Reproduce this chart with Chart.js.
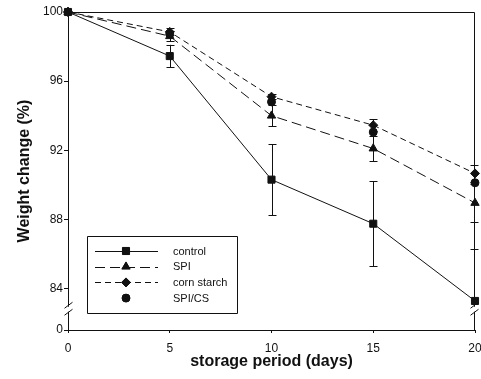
<!DOCTYPE html>
<html><head><meta charset="utf-8">
<script src="https://cdn.jsdelivr.net/npm/chart.js@4/dist/chart.umd.min.js"></script>
<style>html,body{margin:0;padding:0;background:#fff}#wrap{width:481px;height:379px}</style>
</head><body><div id="wrap"><canvas id="c" width="481" height="379"></canvas></div>
<script>
// ---- data ----
const days = [0, 5, 10, 15, 20];
const xTickValues = [0, 5, 10, 15, 20];
const yTickValues = [0, 84, 88, 92, 96, 100];
const seriesNames = ['control', 'SPI', 'corn starch', 'SPI/CS'];
const control = [100, 97.45, 90.3, 87.75, 83.28];
const controlErr = [0, 0.65, 2.06, 2.45, 3.0];
const spi = [100, 98.6, 94.0, 92.1, 88.95];
const spiErr = [0, 0.3, 0.6, 0.75, 1.1];
const cornStarch = [100, 98.85, 95.1, 93.45, 90.66];
const cornStarchErr = [0, 0.2, 0.15, 0.33, 0.48];
const spiCs = [100, 98.72, 94.8, 93.05, 90.12];
const spiCsErr = [0, 0, 0, 0, 0];

// broken axis: the "0" tick is drawn just below 84
const Y_ZERO_AT = 81.6;
const Y_BREAK_AT = 82.8;

const FONT = 'Liberation Sans, Arial, Helvetica, sans-serif';
const INK = '#111';

function mk(name, vals, errs, style, radius, dash, showLine, order) {
  return {
    label: name,
    data: days.map((d, i) => ({x: d, y: vals[i]})),
    errors: errs,
    borderColor: INK, backgroundColor: INK,
    borderWidth: 1, borderDash: dash,
    pointStyle: style, pointRadius: radius, pointHoverRadius: radius,
    pointBorderColor: INK, pointBackgroundColor: INK, pointBorderWidth: 1,
    showLine: showLine, fill: false, tension: 0, clip: false, order: order
  };
}

const datasets = [
  mk(seriesNames[3], spiCs, spiCsErr, 'circle', 4, [], false, 0),
  mk(seriesNames[0], control, controlErr, 'rect', 5, [], true, 3),
  mk(seriesNames[1], spi, spiErr, 'triangle', 4.8, [10, 5], true, 2),
  mk(seriesNames[2], cornStarch, cornStarchErr, 'rectRot', 4.5, [6, 4], true, 1)
];
const legendOrder = [1, 2, 3, 0];

const errorBars = {
  id: 'errorBars',
  beforeDatasetsDraw(chart) {
    const ctx = chart.ctx, xs = chart.scales.x, ys = chart.scales.y, a = chart.chartArea;
    ctx.save();
    ctx.beginPath(); ctx.rect(a.left - 10, a.top - 10, a.right - a.left + 20, a.bottom - a.top + 10); ctx.clip();
    ctx.strokeStyle = INK; ctx.lineWidth = 1; ctx.setLineDash([]);
    chart.data.datasets.forEach(ds => {
      ds.data.forEach((p, i) => {
        const e = ds.errors[i];
        if (!e) return;
        let x = Math.round(xs.getPixelForValue(p.x)) + 0.5;
        if (x > a.right - 1) x = Math.round(a.right) - 0.5;
        const y1 = ys.getPixelForValue(p.y + e), y2 = ys.getPixelForValue(p.y - e);
        ctx.beginPath();
        ctx.moveTo(x, y1); ctx.lineTo(x, y2);
        ctx.moveTo(x - 4, Math.round(y1) + 0.5); ctx.lineTo(x + 4, Math.round(y1) + 0.5);
        ctx.moveTo(x - 4, Math.round(y2) + 0.5); ctx.lineTo(x + 4, Math.round(y2) + 0.5);
        ctx.stroke();
      });
    });
    ctx.restore();
  }
};

function drawMarker(ctx, style, r, x, y) {
  if (Chart.helpers && Chart.helpers.drawPoint) {
    Chart.helpers.drawPoint(ctx, {pointStyle: style, radius: r, rotation: 0, borderWidth: 1}, x, y);
    ctx.fill();
  }
}

const frame = {
  id: 'frame',
  afterDraw(chart) {
    const ctx = chart.ctx, a = chart.chartArea, ys = chart.scales.y;
    ctx.save();
    ctx.strokeStyle = INK; ctx.lineWidth = 1; ctx.setLineDash([]);
    const L = Math.round(a.left) + 0.5, R = Math.round(a.right) - 0.5, T = Math.round(a.top) + 0.5;
    ctx.beginPath();
    ctx.moveTo(L, T); ctx.lineTo(R, T);
    ctx.moveTo(R, T); ctx.lineTo(R, a.bottom);
    ctx.stroke();
    // axis breaks
    const yb = ys.getPixelForValue(Y_BREAK_AT);
    [L, R].forEach(x => {
      ctx.fillStyle = '#fff';
      ctx.fillRect(x - 2, yb - 2.5, 4, 5);
      ctx.beginPath();
      ctx.moveTo(x - 4, yb - 1); ctx.lineTo(x + 4, yb - 7);
      ctx.moveTo(x - 4, yb + 6); ctx.lineTo(x + 4, yb);
      ctx.stroke();
    });
    // legend
    const bx = 87.5, by = 236.5, bw = 150, bh = 77;
    ctx.beginPath(); ctx.rect(bx, by, bw, bh); ctx.stroke();
    ctx.font = '11px ' + FONT; ctx.textBaseline = 'middle'; ctx.textAlign = 'left';
    legendOrder.forEach((di, k) => {
      const ds = chart.data.datasets[di];
      const y = 251 + k * 15.7;
      ctx.strokeStyle = INK; ctx.fillStyle = INK;
      if (ds.showLine) {
        ctx.setLineDash(ds.borderDash);
        ctx.beginPath(); ctx.moveTo(95, Math.round(y) + 0.5); ctx.lineTo(158, Math.round(y) + 0.5); ctx.stroke();
        ctx.setLineDash([]);
      }
      drawMarker(ctx, ds.pointStyle, ds.pointRadius, 126, y);
      ctx.fillStyle = INK;
      ctx.fillText(ds.label, 173, y + 0.5);
    });
    ctx.restore();
  }
};

new Chart(document.getElementById('c'), {
  type: 'line',
  data: {datasets},
  plugins: [errorBars, frame],
  options: {
    responsive: false, animation: false, devicePixelRatio: 1,
    layout: {padding: {top: 12, right: 6, left: 0, bottom: 0}},
    plugins: {legend: {display: false}, tooltip: {enabled: false}},
    scales: {
      x: {
        type: 'linear', min: 0, max: 20,
        afterBuildTicks: s => { s.ticks = xTickValues.map(v => ({value: v})); },
        afterFit: s => { s.height = 49; s.paddingRight = 0; s.paddingLeft = 0; },
        grid: {drawOnChartArea: false, drawTicks: true, tickLength: 3, color: INK},
        border: {display: true, color: INK, width: 1},
        ticks: {color: INK, font: {family: FONT, size: 12}, padding: 8, maxRotation: 0},
        title: {display: true, text: 'storage period (days)', color: INK,
          font: {family: FONT, size: 16, weight: 'bold'}, padding: {top: 0, bottom: 8}}
      },
      y: {
        type: 'linear', min: Y_ZERO_AT, max: 100,
        afterBuildTicks: s => { s.ticks = yTickValues.map(v => ({value: v === 0 ? Y_ZERO_AT : v})); },
        afterFit: s => { s.width = 68; s.paddingTop = 0; s.paddingBottom = 0; },
        grid: {drawOnChartArea: false, drawTicks: true, tickLength: 4, color: INK},
        border: {display: true, color: INK, width: 1},
        ticks: {color: INK, font: {family: FONT, size: 12}, padding: 1,
          callback: v => (v === Y_ZERO_AT ? '0' : String(v))},
        title: {display: true, text: 'Weight change (%)', color: INK,
          font: {family: FONT, size: 16, weight: 'bold'}, padding: {top: 15, bottom: 0}}
      }
    }
  }
});
</script></body></html>
